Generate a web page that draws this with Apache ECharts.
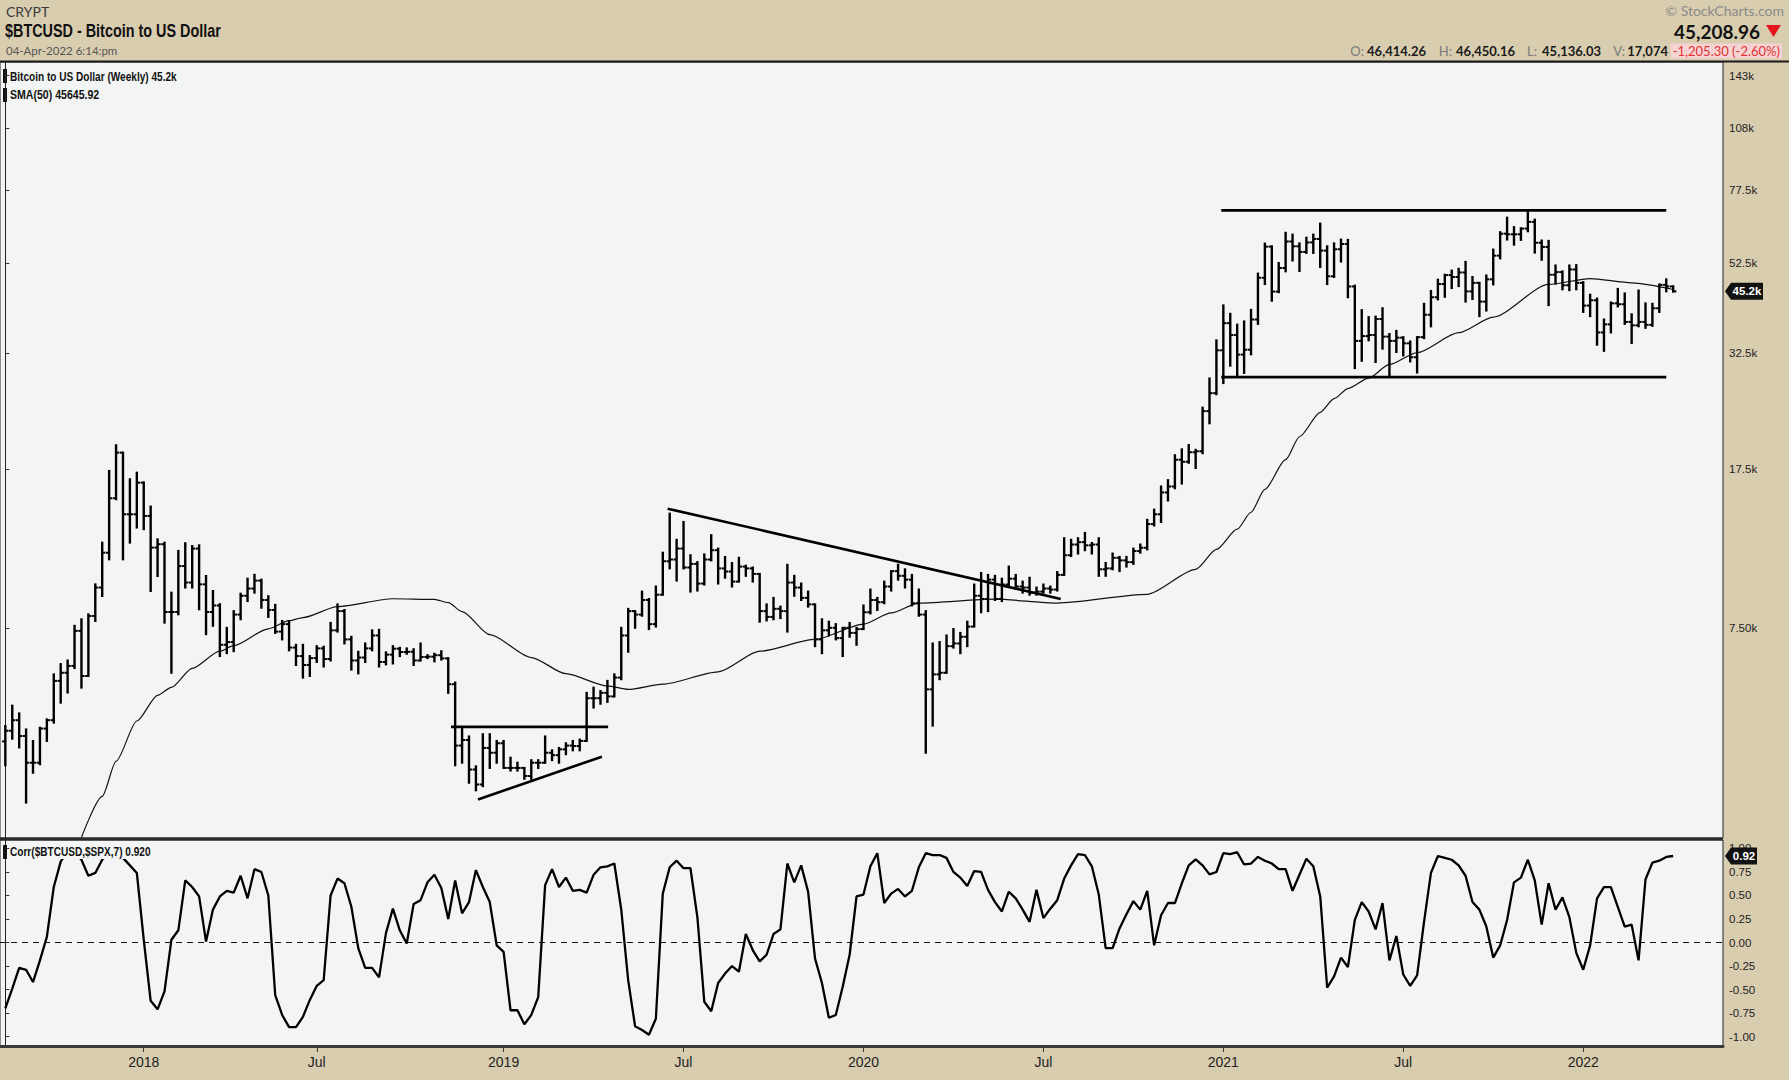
<!DOCTYPE html>
<html>
<head>
<meta charset="utf-8">
<script src="https://cdn.jsdelivr.net/npm/echarts@6/dist/echarts.min.js"></script>
<style>
html,body{margin:0;padding:0;background:#d9cdb0;}
#c{width:1789px;height:1080px;}
</style>
</head>
<body>
<div id="c"></div>
<script>
// ---------- DATA ----------
const firstWeek = '2017-08-21';           // Monday of first weekly bar
// weekly bars: [open, high, low, close]
const ohlc = [
// 2017
[4090,4440,3600,4330],[4330,4950,4150,4580],[4580,4750,3960,4210],[4210,4360,2950,3650],[3650,4100,3460,3650],
[3650,4400,3620,4380],[4380,4600,4100,4580],[4580,5850,4520,5650],[5650,6180,5030,5900],[5900,6300,5310,6120],
[6120,7580,6050,7380],[7380,7850,5450,5800],[5800,8060,5800,7990],[7990,9460,7780,9300],[9300,11820,8890,11200],
[11200,17330,10810,14980],[14980,19880,14900,19110],[19110,19110,10810,13750],[13750,16580,11820,13750],
// 2018
[13750,17170,12810,16280],[16280,16300,12700,13630],[13630,14330,9130,11510],[11510,12030,9890,11720],
[11720,11820,7710,8160],[8160,9050,5900,8160],[8160,11310,8060,10430],[10430,11780,9300,9550],
[9550,11610,9300,11450],[11450,11650,8280,9460],[9460,9890,7250,8160],[8160,9130,7580,8450],
[8450,8510,6450,6850],[6850,7500,6550,6950],[6950,8200,6620,8050],[8050,9000,7850,8900],
[8900,9750,8650,9250],[9250,9950,9050,9650],[9650,9700,8350,8700],[8700,8880,7950,8250],
[8250,8480,7300,7350],[7350,7780,7050,7650],[7650,7770,6650,6750],[6750,6850,6150,6450],
[6450,6850,5750,6150],[6150,6450,5800,6380],[6380,6800,6250,6720],[6720,6780,6100,6350],
[6350,7700,6300,7400],[7400,8500,7350,8200],[8200,8250,6900,7050],[7050,7150,6000,6300],
[6300,6600,5880,6400],[6400,6900,6250,6720],[6720,7400,6650,7200],[7200,7420,6100,6250],
[6250,6580,6170,6500],[6500,6800,6200,6710],[6710,6740,6450,6590],[6590,6720,6530,6600],
[6600,6690,6150,6300],[6300,6900,6300,6420],[6420,6480,6380,6430],[6430,6530,6270,6480],
[6480,6620,6330,6370],[6370,6380,5300,5550],[5550,5600,3600,4000],[4000,4400,3650,4120],
[4120,4200,3280,3520],[3520,3580,3150,3250],[3250,4250,3220,3950],[3950,4250,3550,3850],
// 2019
[3850,4100,3650,4050],[4050,4100,3550,3550],[3550,3750,3500,3550],[3550,3650,3500,3550],
[3550,3550,3350,3400],[3400,3700,3350,3650],[3650,3700,3550,3650],[3650,4200,3650,3850],
[3850,3900,3700,3800],[3800,3950,3650,3920],[3920,4050,3820,4000],[4000,4100,3900,3990],
[3990,4130,3900,4100],[4100,5300,4100,5150],[5150,5450,4900,5150],[5150,5350,5000,5300],
[5300,5650,5050,5200],[5200,5850,5200,5750],[5750,7500,5700,7200],[7200,8300,6600,8200],
[8200,8200,7500,8050],[8050,9100,8000,8700],[8700,8750,7450,7650],[7650,9350,7550,8950],
[8950,11200,8950,10700],[10700,13800,10300,10800],[10800,12000,9650,11450],[11450,13200,10300,10350],
[10350,11050,9100,10550],[10550,10650,9150,9500],[9500,11100,9450,10800],[10800,12300,10750,11350],
[11350,11450,9500,10300],[10300,10950,9800,10130],[10130,10600,9350,9600],[9600,10900,9600,10400],
[10400,10450,9900,10300],[10300,10350,9600,10000],[10000,10000,7750,8200],[8200,8500,7800,7950],
[7950,8800,7850,8300],[8300,8400,7900,8200],[8200,10500,7350,9550],[9550,9900,8900,9300],
[9300,9500,8700,8800],[8800,9100,8400,8500],[8500,8500,6800,7050],[7050,7850,6550,7400],
[7400,7750,7200,7500],[7500,7650,7050,7100],[7100,7500,6450,7500],[7500,7700,7150,7300],
[7300,7500,6850,7450],
// 2020
[7450,8450,7450,8150],[8150,9200,8100,8700],[8700,8800,8250,8600],[8600,9600,8550,9350],
[9350,10150,9150,10150],[10150,10500,9700,9900],[9900,10250,9300,9700],[9700,9950,8450,8550],
[8550,9200,8000,8050],[8050,8200,3850,5400],[5400,6900,4450,5850],[5850,6950,5700,5900],
[5900,7200,5900,6800],[6800,7450,6750,6900],[6900,7300,6550,7150],[7150,7750,6800,7550],
[7550,9450,7550,8900],[8900,10050,8150,8750],[8750,9950,8200,9700],[9700,9900,8700,8750],
[8750,9750,8650,9450],[9450,10400,9350,9750],[9750,9950,9250,9350],[9350,9600,9050,9300],
[9300,9800,8950,9050],[9050,9300,8950,9100],[9100,9450,9050,9250],[9250,9350,9050,9200],
[9200,10100,9150,9950],[9950,12100,9950,11050],[11050,12000,11000,11700],[11700,12100,11150,11850],
[11850,12450,11350,11650],[11650,11800,11150,11700],[11700,12100,9900,10250],[10250,10600,9900,10300],
[10300,11150,10250,10900],[10900,10950,10150,10750],[10750,10950,10400,10650],[10650,11450,10550,11300],
[11300,11700,11200,11500],[11500,13350,11400,13050],[13050,14100,12950,13750],[13750,15950,13200,15450],
[15450,16500,14800,15950],[15950,18850,15800,18400],[18400,19450,16200,18200],[18200,19900,18100,19150],
[19150,19400,17600,19250],[19250,24300,19050,23850],[23850,28400,22350,26250],[26250,34800,26100,33000],
// 2021
[33000,41950,27700,38150],[38150,40100,30400,35800],[35800,37850,28850,32250],[32250,38500,29250,33100],
[33100,40950,32300,38900],[38900,49700,38000,48600],[48600,58350,47000,57400],[57400,57500,43000,45150],
[45150,52600,45000,51200],[51200,61800,50300,59000],[59000,61200,53300,57500],[57500,58400,50400,55800],
[55800,60200,55500,58700],[58700,61200,55500,59800],[59800,64900,51500,56200],[56200,57500,47000,49000],
[49000,58400,48800,56600],[56600,59600,53000,58200],[58200,59500,43800,46400],[46400,46600,30000,34700],
[34700,40900,31200,35600],[35600,39400,34800,35800],[35800,39500,31000,39000],[39000,41300,33300,35500],
[35500,36000,28800,34700],[34700,36600,32700,35300],[35300,35400,32100,34250],[34250,34600,31100,31800],
[31800,35400,29300,35400],[35400,42300,35200,39900],[39900,45300,37500,43800],[43800,48100,43300,47000],
[47000,49400,43900,49300],[49300,50500,46000,48800],[48800,51000,46500,50000],[50000,52900,42800,45200],
[45200,48800,43400,47300],[47300,47300,39600,42800],[42800,49200,40800,48200],[48200,56500,46900,54700],
[54700,62000,53900,61500],[61500,67000,59600,61300],[61300,63700,58000,61300],[61300,63300,59500,63200],
[63200,69000,62300,65500],[65500,66300,55600,58600],[58600,59300,53500,57300],[57300,59200,42000,49400],
[49400,51900,47100,50100],[50100,50300,45700,46700],[46700,51900,45500,50800],[50800,52000,45700,47300],
// 2022
[47300,47500,40500,41900],[41900,44400,39600,43100],[43100,43500,34000,36300],[36300,38900,32900,37900],
[37900,42600,36300,42400],[42400,45800,41700,42200],[42200,44700,38000,38400],[38400,40000,34300,37700],
[37700,45400,37500,38400],[38400,42400,37200,37800],[37800,42300,37600,41300],[41300,46900,40500,46800],
[46800,48200,45200,46414],[46414.26,46450.16,45136.03,45208.96]
];

// SMA(50): [week index, value]
const sma = [
[11,2450],[14,3050],[16,3680],[19,4560],[22,5230],[24,5460],[27,6040],[31,6620],[33,6820],[38,7460],
[41,7790],[43,7920],[48,8400],[56,8760],[62,8730],[64,8580],[66,8180],[70,7230],[76,6400],[81,5870],
[87,5500],[90,5400],[95,5550],[103,5930],[109,6620],[117,7050],[124,7650],[128,8120],[132,8560],[143,8740],
[152,8560],[165,8970],[172,10250],[175,11400],[178,12700],[180,13900],[182,15700],[185,18400],[187,20800],
[190,23700],[192,25500],[194,26900],[197,28450],[200,30600],[204,32600],[210,36250],[215,39400],
[223,46900],[229,48400],[235,47300],[241,45645.92]
];

// Corr($BTCUSD,$SPX,7), one value per weekly bar
const corr = [
-0.70,-0.49,-0.27,-0.29,-0.42,-0.19,0.06,0.59,0.86,0.97,0.96,0.88,0.71,0.74,0.88,0.97,0.95,0.90,0.82,
0.74,0.03,-0.62,-0.71,-0.52,0.03,0.13,0.66,0.59,0.49,
0.01,0.35,0.49,0.55,0.53,0.71,0.47,0.78,0.75,0.50,
-0.56,-0.77,-0.90,-0.90,-0.79,-0.61,-0.46,-0.40,0.50,0.68,
0.63,0.38,-0.06,-0.27,-0.27,-0.37,0.10,0.36,0.13,-0.01,
0.41,0.45,0.64,0.72,0.58,0.25,0.66,0.31,0.43,0.77,
0.59,0.43,-0.03,-0.10,-0.72,-0.72,-0.87,-0.77,-0.58,0.61,
0.78,
0.59,0.69,0.55,0.56,0.53,0.72,0.80,0.81,0.84,0.35,
-0.40,-0.89,-0.93,-0.98,-0.81,0.52,0.80,0.87,0.79,0.79,
0.27,-0.63,-0.73,-0.43,-0.33,-0.25,-0.31,0.09,-0.08,-0.20,
-0.13,0.09,0.14,0.84,0.64,0.82,0.54,-0.17,-0.43,-0.80,
-0.77,-0.47,-0.13,0.49,0.51,0.81,0.95,0.42,0.52,0.57,
0.49,0.55,0.80,0.95,0.93,0.93,0.90,0.75,0.69,0.60,
0.76,0.75,0.56,0.43,0.33,0.54,0.47,0.35,0.22,0.56,
0.26,0.36,0.45,0.68,0.82,0.94,0.93,0.81,0.51,-0.06,
-0.06,0.15,0.30,0.44,0.35,0.55,-0.03,0.29,0.42,0.42,
0.63,0.82,
0.885,0.82,0.725,0.75,0.95,0.94,0.96,0.83,0.84,0.91,
0.87,0.84,0.78,0.78,0.55,0.72,0.89,0.81,0.49,-0.48,
-0.36,-0.16,-0.26,0.24,0.43,0.33,0.14,0.42,-0.19,0.07,
-0.34,-0.46,-0.35,0.22,0.74,0.92,0.90,0.88,0.82,0.71,
0.43,0.35,0.17,-0.16,-0.03,0.24,0.64,0.69,0.88,0.66,
0.19,0.63,0.35,0.48,0.27,-0.11,-0.29,-0.03,0.47,0.59,
0.59,0.38,0.17,0.19,-0.19,0.67,0.85,0.87,0.91,0.92
];

// hand-drawn annotation lines: [[week, price],[week, price]]
const trendLines = [
  [[64.4, 4420], [87.1, 4420]],
  [[68.3, 3000], [86.2, 3770]],
  [[95.7, 14170], [152.5, 8750]],
  [[175.7, 69660], [240.0, 69660]],
  [[175.7, 28600], [240.0, 28600]]
];

const priceTickValues = [7500, 17500, 32500, 52500, 77500, 108000, 143000];
const priceTickLabels = ['7.50k', '17.5k', '32.5k', '52.5k', '77.5k', '108k', '143k'];
const corrTickValues = [1, 0.75, 0.5, 0.25, 0, -0.25, -0.5, -0.75, -1];
const corrTickLabels = ['1.00', '0.75', '0.50', '0.25', '0.00', '-0.25', '-0.50', '-0.75', '-1.00'];
const xTickWeeks = ['2018-01-08', '2018-07-02', '2019-01-07', '2019-07-08', '2020-01-06', '2020-07-06', '2021-01-04', '2021-07-05', '2022-01-03'];
const xTickLabels = ['2018', 'Jul', '2019', 'Jul', '2020', 'Jul', '2021', 'Jul', '2022'];

const header = {
  exchange: 'CRYPT',
  title: '$BTCUSD - Bitcoin to US Dollar',
  stamp: '04-Apr-2022 6:14:pm',
  last: '45,208.96',
  open: '46,414.26', high: '46,450.16', low: '45,136.03', vol: '17,074',
  change: '-1,205.30 (-2.60%)'
};

// ---------- CHART ----------
const BEIGE = '#d9cdb0';
const PLOT_BG = '#f3f5f5';
const X_MIN = -0.77, X_MAX = 248.2;
const AXIS_FONT = "'Liberation Sans', Arial, sans-serif";
const COND_FONT = "'Liberation Sans', Arial, sans-serif";

const weekIndex = d => Math.round((Date.parse(d) - Date.parse(firstWeek)) / 6048e5);
const xTickIdx = xTickWeeks.map(weekIndex);
const labelFor = (vals, labels, v) => {
  for (let k = 0; k < vals.length; k++) {
    if (Math.abs(vals[k] - v) <= Math.abs(vals[k]) * 1e-6 + 1e-9) return labels[k];
  }
  return '';
};

const barData = ohlc.map((r, j) => [j, r[0], r[1], r[2], r[3]]);
const corrData = corr.map((v, j) => [j, v]);
const lastClose = ohlc[ohlc.length - 1][3];
const lastSma = sma[sma.length - 1][1];
const lastCorr = corr[corr.length - 1];

function renderOHLC(params, api) {
  const x = api.value(0);
  const o = api.coord([x, api.value(1)]);
  const h = api.coord([x, api.value(2)]);
  const l = api.coord([x, api.value(3)]);
  const c = api.coord([x, api.value(4)]);
  const t = 3.2;
  return {
    type: 'group',
    children: [
      { type: 'line', shape: { x1: h[0], y1: h[1] - 1, x2: l[0], y2: l[1] + 1 }, style: { stroke: '#000', lineWidth: 2.4 } },
      { type: 'line', shape: { x1: o[0] - t, y1: o[1], x2: o[0], y2: o[1] }, style: { stroke: '#000', lineWidth: 2 } },
      { type: 'line', shape: { x1: c[0], y1: c[1], x2: c[0] + t, y2: c[1] }, style: { stroke: '#000', lineWidth: 2 } }
    ]
  };
}

function badge(width, textFn) {
  return function (params, api) {
    const p = api.coord([api.value(0), api.value(1)]);
    const x0 = p[0] + 2, y0 = p[1];
    return {
      type: 'group',
      children: [
        { type: 'polygon', shape: { points: [[x0, y0], [x0 + 6, y0 - 8.5], [x0 + width, y0 - 8.5], [x0 + width, y0 + 8.5], [x0 + 6, y0 + 8.5]] }, style: { fill: '#111' } },
        { type: 'text', x: x0 + 6 + (width - 6) / 2, y: y0, style: { text: textFn(api.value(1)), fill: '#fff', font: 'bold 11.5px ' + AXIS_FONT, align: 'center', verticalAlign: 'middle', textAlign: 'center', textVerticalAlign: 'middle' } }
      ]
    };
  };
}

function txt(x, y, text, font, fill, align, extra, sx) {
  return {
    type: 'text', x: x, y: y, silent: true, scaleX: sx || 1,
    style: Object.assign({ text: text, font: font, fill: fill, align: align || 'left', verticalAlign: 'middle', textAlign: align || 'left', textVerticalAlign: 'middle' }, extra || {})
  };
}

const graphic = [
  // header separator and panel separator
  { type: 'rect', x: 0, y: 60.5, shape: { width: 1789, height: 2 }, style: { fill: '#1a1a1a' }, silent: true },
  { type: 'rect', x: 0, y: 837.5, shape: { width: 1723, height: 3 }, style: { fill: '#2a2a2a' }, silent: true, z: 50 },
  txt(6, 11, header.exchange, '14px Lato, sans-serif', '#3a3a3a'),
  txt(5, 30, header.title, 'bold 18px ' + COND_FONT, '#111', 'left', null, 0.80),
  txt(6, 50, header.stamp, '11.5px Lato, sans-serif', '#555'),
  txt(1784, 10, '\u00A9 StockCharts.com', '14px Lato, sans-serif', '#8a8a8a', 'right'),
  txt(1760, 31, header.last, 'bold 19px Lato, sans-serif', '#111', 'right'),
  { type: 'polygon', shape: { points: [[1766, 25], [1781, 25], [1773.5, 37]] }, style: { fill: '#e3141b' }, silent: true },
  txt(1364, 51, 'O:', '13px Lato, sans-serif', '#7a7a7a', 'right'),
  txt(1426, 51, header.open, 'bold 13px Lato, sans-serif', '#1a1a1a', 'right'),
  txt(1452, 51, 'H:', '13px Lato, sans-serif', '#7a7a7a', 'right'),
  txt(1515, 51, header.high, 'bold 13px Lato, sans-serif', '#1a1a1a', 'right'),
  txt(1537, 51, 'L:', '13px Lato, sans-serif', '#7a7a7a', 'right'),
  txt(1601, 51, header.low, 'bold 13px Lato, sans-serif', '#1a1a1a', 'right'),
  txt(1625, 51, 'V:', '13px Lato, sans-serif', '#7a7a7a', 'right'),
  txt(1668, 51, header.vol, 'bold 13px Lato, sans-serif', '#1a1a1a', 'right'),
  txt(1782, 51, header.change, '13px Lato, sans-serif', '#e03434', 'right', { backgroundColor: '#f6d3d3', padding: [1, 2] }),
  // legends
  { type: 'rect', x: 3, y: 69, shape: { width: 4, height: 14 }, style: { fill: '#111' }, silent: true },
  txt(10, 76.5, 'Bitcoin to US Dollar (Weekly) ' + (lastClose / 1000).toFixed(1) + 'k', 'bold 12px ' + COND_FONT, '#111', 'left', null, 0.84),
  { type: 'rect', x: 3, y: 88, shape: { width: 4, height: 14 }, style: { fill: '#111' }, silent: true },
  txt(10, 95, 'SMA(50) ' + lastSma.toFixed(2), 'bold 12px ' + COND_FONT, '#111', 'left', null, 0.88),
  { type: 'rect', x: 3, y: 845, shape: { width: 4, height: 14 }, style: { fill: '#111' }, silent: true, z: 100 },
  Object.assign(txt(10, 852, 'Corr($BTCUSD,$SPX,7) ' + lastCorr.toFixed(3), 'bold 12px ' + COND_FONT, '#111', 'left', { backgroundColor: PLOT_BG, padding: [1, 3, 1, 0] }, 0.84), { z: 100 })
];

const trendSeries = trendLines.map(seg => ({
  type: 'line', xAxisIndex: 0, yAxisIndex: 0, data: seg, showSymbol: false, symbol: 'none',
  lineStyle: { color: '#000', width: 2.6 }, silent: true, z: 4, clip: true
}));

const option = {
  animation: false,
  backgroundColor: BEIGE,
  graphic: graphic,
  grid: [
    { left: 0, top: 62, width: 1723, height: 776, show: true, backgroundColor: PLOT_BG, borderColor: '#222', borderWidth: 1, containLabel: false, outerBoundsMode: 'none' },
    { left: 0, top: 840, width: 1723, height: 206, show: true, backgroundColor: PLOT_BG, borderColor: '#222', borderWidth: 1, containLabel: false, outerBoundsMode: 'none' }
  ],
  xAxis: [
    { type: 'value', gridIndex: 0, min: X_MIN, max: X_MAX, show: false, splitLine: { show: false } },
    {
      type: 'value', gridIndex: 1, min: X_MIN, max: X_MAX,
      splitLine: { show: false },
      axisLine: { show: true, onZero: false, lineStyle: { color: '#3a3a3a', width: 3 } },
      axisTick: { show: true, customValues: xTickIdx, length: 6, inside: false, lineStyle: { color: '#333', width: 1 } },
      axisLabel: {
        show: true, customValues: xTickIdx, margin: 9, color: '#222', fontSize: 14, fontFamily: AXIS_FONT,
        formatter: v => labelFor(xTickIdx, xTickLabels, v)
      }
    }
  ],
  yAxis: [
    {
      type: 'log', logBase: 10, gridIndex: 0, position: 'right', min: 2442, max: 153800,
      splitLine: { show: false },
      axisLine: { show: true, lineStyle: { color: '#222', width: 1 } },
      axisTick: { show: true, customValues: priceTickValues, length: 4, inside: false, lineStyle: { color: '#333' } },
      axisLabel: {
        show: true, customValues: priceTickValues, margin: 6, color: '#222', fontSize: 11.5, fontFamily: AXIS_FONT,
        formatter: v => labelFor(priceTickValues, priceTickLabels, v)
      }
    },
    {
      type: 'value', gridIndex: 1, position: 'right', min: -1.10, max: 1.09,
      splitLine: { show: false },
      axisLine: { show: true, lineStyle: { color: '#222', width: 1 } },
      axisTick: { show: true, customValues: corrTickValues, length: 4, inside: false, lineStyle: { color: '#333' } },
      axisLabel: {
        show: true, customValues: corrTickValues, margin: 6, color: '#222', fontSize: 11.5, fontFamily: AXIS_FONT,
        formatter: v => labelFor(corrTickValues, corrTickLabels, v)
      }
    }
  ],
  series: [
    {
      type: 'custom', name: 'BTCUSD', xAxisIndex: 0, yAxisIndex: 0, data: barData,
      encode: { x: 0, y: [1, 2, 3, 4] }, renderItem: renderOHLC, clip: true, silent: true, z: 3
    },
    {
      type: 'line', name: 'SMA(50)', xAxisIndex: 0, yAxisIndex: 0, data: sma, showSymbol: false, symbol: 'none',
      smooth: 0.25, smoothMonotone: 'x', lineStyle: { color: '#111', width: 1.2 }, silent: true, clip: true, z: 2
    },
    ...trendSeries,
    {
      type: 'line', name: 'Corr', xAxisIndex: 1, yAxisIndex: 1, data: corrData, showSymbol: false, symbol: 'none',
      lineStyle: { color: '#000', width: 2.3 }, silent: true, clip: true, z: 3,
      markLine: {
        silent: true, symbol: 'none', label: { show: false },
        lineStyle: { type: [6, 5], color: '#111', width: 1.2 },
        data: [{ yAxis: 0 }]
      }
    },
    {
      type: 'custom', xAxisIndex: 0, yAxisIndex: 0, data: [[X_MAX, lastClose]], clip: false, silent: true, z: 10,
      renderItem: badge(38, v => (v / 1000).toFixed(1) + 'k')
    },
    {
      type: 'custom', xAxisIndex: 1, yAxisIndex: 1, data: [[X_MAX, lastCorr]], clip: false, silent: true, z: 10,
      renderItem: badge(32, v => v.toFixed(2))
    }
  ]
};

const chart = echarts.init(document.getElementById('c'), null, { renderer: 'svg', width: 1789, height: 1080 });
chart.setOption(option);
</script>
</body>
</html>
